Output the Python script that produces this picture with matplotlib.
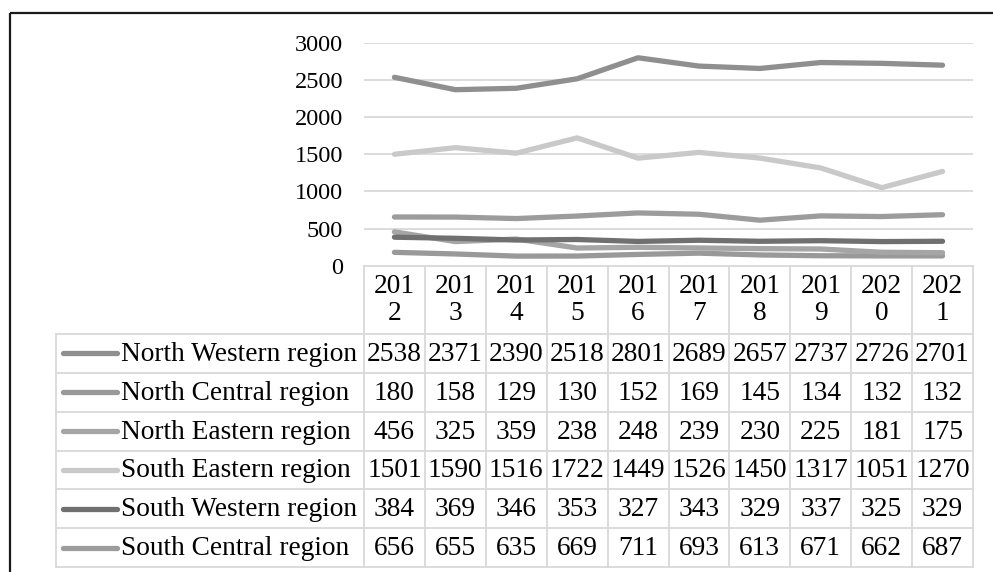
import matplotlib
matplotlib.use("Agg")
import matplotlib.pyplot as plt
from matplotlib.lines import Line2D

plt.rcParams['font.family'] = ['Liberation Serif', 'DejaVu Serif']

years = ["2012", "2013", "2014", "2015", "2016", "2017", "2018", "2019", "2020", "2021"]
regions = ["North Western region", "North Central region", "North Eastern region",
           "South Eastern region", "South Western region", "South Central region"]
north_western = [2538, 2371, 2390, 2518, 2801, 2689, 2657, 2737, 2726, 2701]
north_central = [180, 158, 129, 130, 152, 169, 145, 134, 132, 132]
north_eastern = [456, 325, 359, 238, 248, 239, 230, 225, 181, 175]
south_eastern = [1501, 1590, 1516, 1722, 1449, 1526, 1450, 1317, 1051, 1270]
south_western = [384, 369, 346, 353, 327, 343, 329, 337, 325, 329]
south_central = [656, 655, 635, 669, 711, 693, 613, 671, 662, 687]
series = [north_western, north_central, north_eastern, south_eastern, south_western, south_central]
colors = ["#8f8f8f", "#999999", "#a5a5a5", "#c9c9c9", "#707070", "#9c9c9c"]
y_ticks = [0, 500, 1000, 1500, 2000, 2500, 3000]

W, H = 993, 572
fig = plt.figure(figsize=(W / 100, H / 100), dpi=100)
FS_TICK = 17.5
FS_TAB = 19.7
GRID = "#d9d9d9"

# pixel layout of the plot area and data table
plot_left, plot_right = 364, 973
plot_top, plot_bottom = 43, 265.7
leg_left = 56
header_bottom = 334
row_h = (567 - header_bottom) / len(regions)
col_w = (plot_right - plot_left) / len(years)

ax = fig.add_axes([plot_left / W, 1 - plot_bottom / H,
                   (plot_right - plot_left) / W, (plot_bottom - plot_top) / H])
ax.set_xlim(-0.5, len(years) - 0.5)
ax.set_ylim(0, 3000)
ax.set_yticks(y_ticks)
ax.set_yticklabels([str(t) for t in y_ticks], fontsize=FS_TICK)
ax.tick_params(axis='y', length=0, pad=15)
ax.tick_params(axis='x', length=0, labelbottom=False)
for s in ax.spines.values():
    s.set_visible(False)
for t in y_ticks[1:]:
    ax.axhline(t, color=GRID, lw=1.3, zorder=0)
xs = list(range(len(years)))
for vals, c in zip(series, colors):
    ax.plot(xs, vals, color=c, lw=3.8, solid_capstyle='round', solid_joinstyle='round', zorder=2)

# overlay in pixel coordinates for the data table and the frame
ov = fig.add_axes([0, 0, 1, 1])
ov.set_xlim(0, W)
ov.set_ylim(H, 0)
ov.axis('off')
ov.patch.set_alpha(0)

lw_t = 1.3
# header row
ov.plot([plot_left, plot_right], [266, 266], color=GRID, lw=lw_t)
for i in range(len(years) + 1):
    x = plot_left + i * col_w
    ov.plot([x, x], [266, 567], color=GRID, lw=lw_t)
for i, yr in enumerate(years):
    cx = plot_left + (i + 0.5) * col_w
    ov.text(cx, 300, yr[:3] + "\n" + yr[3:], ha='center', va='center',
            fontsize=FS_TAB, linespacing=1.1)
# data rows
for r in range(len(regions) + 1):
    y = header_bottom + r * row_h
    ov.plot([leg_left, plot_right], [y, y], color=GRID, lw=lw_t)
ov.plot([leg_left, leg_left], [header_bottom, 567], color=GRID, lw=lw_t)
for r, (name, vals, c) in enumerate(zip(regions, series, colors)):
    cy = header_bottom + (r + 0.5) * row_h
    ov.add_line(Line2D([63, 117], [cy, cy], color=c, lw=3.8, solid_capstyle='round'))
    ov.text(121, cy + 1, name, ha='left', va='center', fontsize=FS_TAB)
    for i, v in enumerate(vals):
        cx = plot_left + (i + 0.5) * col_w
        ov.text(cx, cy + 1, str(v), ha='center', va='center', fontsize=FS_TAB)

# outer frame (top and left edges)
ov.plot([10, W], [13, 13], color="#1a1a1a", lw=1.6, solid_capstyle='butt')
ov.plot([10, 10], [13, H], color="#1a1a1a", lw=1.6, solid_capstyle='butt')

fig.savefig("out.png", dpi=100)
